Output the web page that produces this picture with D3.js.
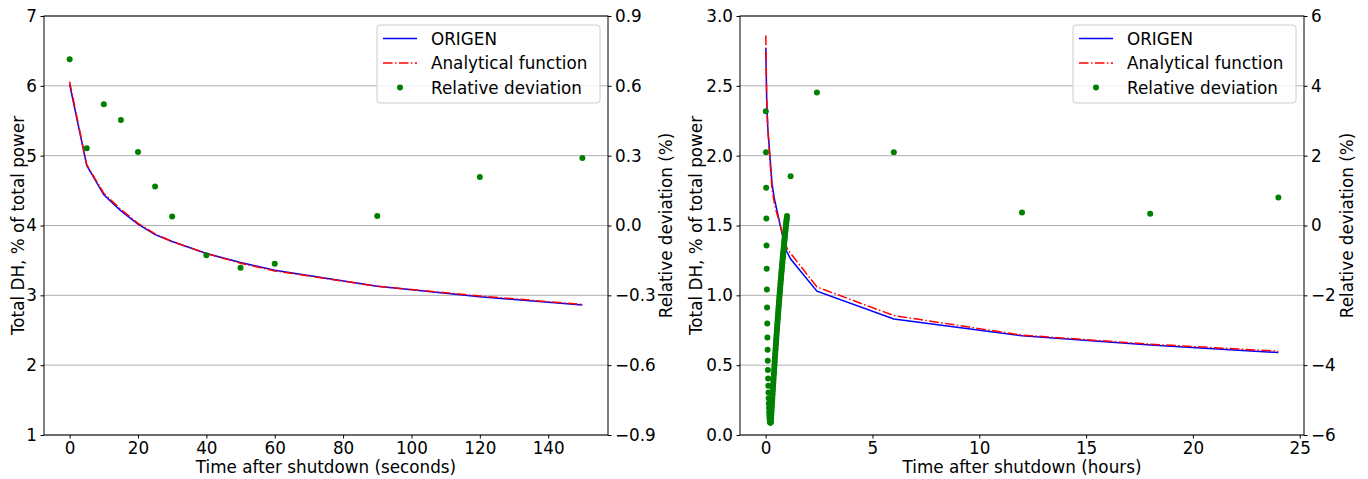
<!DOCTYPE html>
<html>
<head>
<meta charset="utf-8">
<script src="https://cdn.jsdelivr.net/npm/d3@7"></script>
<style>
  html, body { margin: 0; padding: 0; background: #fff; }
  svg { display: block; }
  text { font-family: "DejaVu Sans", sans-serif; fill: #000; }
</style>
</head>
<body>
<svg id="chart" width="1368" height="479"></svg>
<script>
// ---------------- DATA ----------------
// Left panel: seconds after shutdown
const secTimes      = [0, 5, 10, 15, 20, 25, 30, 40, 50, 60, 90, 120, 150];
const secOrigen     = [6.02, 4.86, 4.44, 4.21, 4.02, 3.87, 3.77, 3.60, 3.47, 3.36, 3.13, 2.98, 2.86];
const secAnalytical = [6.06, 4.87, 4.46, 4.23, 4.03, 3.88, 3.77, 3.60, 3.46, 3.35, 3.13, 2.99, 2.87];
const secDeviation  = [0.714, 0.332, 0.521, 0.453, 0.316, 0.168, 0.039, -0.128, -0.181, -0.164, 0.041, 0.208, 0.290];

// Right panel: hours after shutdown (lines)
const hourLineTimes  = [0.0083, 0.05, 0.1, 0.2, 0.3, 0.4, 0.5, 0.6, 0.7, 0.8, 0.9, 1.0, 1.17, 2.4, 6, 12, 18, 24];
const hourOrigen     = [2.77, 2.38, 2.20, 2.00, 1.80, 1.70, 1.63, 1.56, 1.49, 1.42, 1.35, 1.31, 1.26, 1.03, 0.83, 0.71, 0.645, 0.59];
const hourAnalytical = [2.86, 2.42, 2.20, 1.97, 1.76, 1.67, 1.60, 1.55, 1.49, 1.43, 1.37, 1.34, 1.30, 1.06, 0.855, 0.715, 0.65, 0.60];

// Right panel: deviation points, first hour sampled every 30 s (minutes)
const devMinutes = [
  0.5,1,1.5,2,2.5,3,3.5,4,4.5,5,5.5,6,6.5,7,7.5,8,8.5,9,9.5,10,
  10.5,11,11.5,12,12.5,13,13.5,14,14.5,15,15.5,16,16.5,17,17.5,18,18.5,19,19.5,20,
  20.5,21,21.5,22,22.5,23,23.5,24,24.5,25,25.5,26,26.5,27,27.5,28,28.5,29,29.5,30,
  30.5,31,31.5,32,32.5,33,33.5,34,34.5,35,35.5,36,36.5,37,37.5,38,38.5,39,39.5,40,
  40.5,41,41.5,42,42.5,43,43.5,44,44.5,45,45.5,46,46.5,47,47.5,48,48.5,49,49.5,50,
  50.5,51,51.5,52,52.5,53,53.5,54,54.5,55,55.5,56,56.5,57,57.5,58,58.5,59,59.5,60
];
const devFirstHour = [
  3.27, 2.10, 1.08, 0.20, -0.57, -1.24, -1.83, -2.35, -2.81, -3.21,
  -3.56, -3.87, -4.14, -4.38, -4.59, -4.78, -4.95, -5.10, -5.23, -5.34,
  -5.43, -5.50, -5.56, -5.60, -5.63, -5.64, -5.65, -5.64, -5.62, -5.58,
  -5.50, -5.41, -5.33, -5.24, -5.16, -5.08, -4.99, -4.91, -4.83, -4.75,
  -4.67, -4.59, -4.51, -4.43, -4.35, -4.27, -4.20, -4.12, -4.04, -3.97,
  -3.89, -3.81, -3.74, -3.66, -3.59, -3.52, -3.44, -3.37, -3.30, -3.23,
  -3.15, -3.08, -3.01, -2.94, -2.87, -2.80, -2.73, -2.67, -2.60, -2.53,
  -2.46, -2.40, -2.33, -2.27, -2.20, -2.14, -2.07, -2.01, -1.94, -1.88,
  -1.82, -1.76, -1.69, -1.63, -1.57, -1.51, -1.45, -1.39, -1.33, -1.28,
  -1.22, -1.16, -1.10, -1.05, -0.99, -0.93, -0.88, -0.82, -0.77, -0.72,
  -0.66, -0.61, -0.56, -0.50, -0.45, -0.40, -0.35, -0.30, -0.25, -0.20,
  -0.15, -0.10, -0.05, -0.01, 0.04, 0.09, 0.13, 0.18, 0.22, 0.27
];
const devLaterHours = [1.17, 2.4, 6, 12, 18, 24];
const devLater      = [1.41, 3.81, 2.10, 0.37, 0.34, 0.80];

// Tick labels
const secXTicks   = [0, 20, 40, 60, 80, 100, 120, 140];
const secYTicks   = [1, 2, 3, 4, 5, 6, 7];
const secY2Ticks  = [-0.9, -0.6, -0.3, 0.0, 0.3, 0.6, 0.9];
const hourXTicks  = [0, 5, 10, 15, 20, 25];
const hourYTicks  = [0.0, 0.5, 1.0, 1.5, 2.0, 2.5, 3.0];
const hourY2Ticks = [-6, -4, -2, 0, 2, 4, 6];

const legendLabels = ["ORIGEN", "Analytical function", "Relative deviation"];
const yLabel  = "Total DH, % of total power";
const y2Label = "Relative deviation (%)";

// ---------------- DRAW ----------------
const svg = d3.select("#chart");
const minus = s => s.replace("-", "\u2212");

function panel(cfg) {
  const { left, right, top, bottom } = cfg;
  const g = svg.append("g");
  const x  = d3.scaleLinear().domain(cfg.xDomain).range([left, right]);
  const y  = d3.scaleLinear().domain(cfg.yDomain).range([bottom, top]);
  const y2 = d3.scaleLinear().domain(cfg.y2Domain).range([bottom, top]);

  // grid
  g.append("g").selectAll("line").data(cfg.yTicks).join("line")
    .attr("x1", left).attr("x2", right)
    .attr("y1", d => y(d)).attr("y2", d => y(d))
    .attr("stroke", "#b0b0b0").attr("stroke-width", 1);

  const clip = "clip" + Math.round(left);
  svg.append("clipPath").attr("id", clip).append("rect")
    .attr("x", left).attr("y", top).attr("width", right - left).attr("height", bottom - top);

  const pts = (xs, ys) => xs.map((t, i) => [t, ys[i]]);
  const line = d3.line().x(d => x(d[0])).y(d => y(d[1]));
  const lg = g.append("g").attr("clip-path", `url(#${clip})`);
  lg.append("path").datum(pts(cfg.lineX, cfg.origen))
    .attr("d", line).attr("fill", "none").attr("stroke", "#0000ff").attr("stroke-width", 1.5);
  lg.append("path").datum(pts(cfg.lineX, cfg.analytical))
    .attr("d", line).attr("fill", "none").attr("stroke", "#ff0000").attr("stroke-width", 1.5)
    .attr("stroke-dasharray", "9.6,2.4,1.5,2.4");

  // axes
  const fs = 16.8;
  const xAxis = d3.axisBottom(x).tickValues(cfg.xTicks).tickSize(3.5).tickPadding(4)
    .tickFormat(d => minus(d3.format("d")(d)));
  const ga = g.append("g").attr("transform", `translate(0,${bottom})`).call(xAxis);
  const yAxis = d3.axisLeft(y).tickValues(cfg.yTicks).tickSize(3.5).tickPadding(3.5)
    .tickFormat(d => minus(d3.format(cfg.yFmt)(d)));
  const gy = g.append("g").attr("transform", `translate(${left},0)`).call(yAxis);
  const y2Axis = d3.axisRight(y2).tickValues(cfg.y2Ticks).tickSize(3.5).tickPadding(3.5)
    .tickFormat(d => minus(d3.format(cfg.y2Fmt)(d)));
  const gy2 = g.append("g").attr("transform", `translate(${right},0)`).call(y2Axis);
  [ga, gy, gy2].forEach(a => {
    a.select(".domain").remove();
    a.selectAll(".tick line").attr("stroke", "#000").attr("stroke-width", 1);
    a.selectAll(".tick text").attr("font-size", fs).attr("font-family", "DejaVu Sans").attr("fill", "#000");
  });

  // dots (twin axis, on top)
  const dg = g.append("g").attr("clip-path", `url(#${clip})`);
  dg.selectAll("circle").data(pts(cfg.devX, cfg.dev)).join("circle")
    .attr("cx", d => x(d[0])).attr("cy", d => y2(d[1])).attr("r", 3)
    .attr("fill", "#008000");

  // frame
  g.append("rect").attr("x", left).attr("y", top)
    .attr("width", right - left).attr("height", bottom - top)
    .attr("fill", "none").attr("stroke", "#000").attr("stroke-width", 1);

  // labels
  g.append("text").attr("x", (left + right) / 2).attr("y", bottom + 38)
    .attr("text-anchor", "middle").attr("font-size", fs).text(cfg.xLabel);
  g.append("text").attr("transform", `translate(${cfg.yLabelX},${(top + bottom) / 2}) rotate(-90)`)
    .attr("text-anchor", "middle").attr("dominant-baseline", "central").attr("font-size", fs).text(yLabel);
  g.append("text").attr("transform", `translate(${cfg.y2LabelX},${(top + bottom) / 2}) rotate(-90)`)
    .attr("text-anchor", "middle").attr("dominant-baseline", "central").attr("font-size", fs).text(y2Label);

  // legend
  const lw = 223, lx = right - 8 - lw, ly = top + 9, lh = 78;
  const leg = g.append("g");
  leg.append("rect").attr("x", lx).attr("y", ly).attr("width", lw).attr("height", lh)
    .attr("rx", 3).attr("fill", "#fff").attr("fill-opacity", 0.8)
    .attr("stroke", "#cccccc").attr("stroke-width", 1);
  const rows = [ly + 13.5, ly + 38, ly + 62.5];
  leg.append("line").attr("x1", lx + 6).attr("x2", lx + 40).attr("y1", rows[0]).attr("y2", rows[0])
    .attr("stroke", "#0000ff").attr("stroke-width", 1.5);
  leg.append("line").attr("x1", lx + 6).attr("x2", lx + 40).attr("y1", rows[1]).attr("y2", rows[1])
    .attr("stroke", "#ff0000").attr("stroke-width", 1.5).attr("stroke-dasharray", "9.6,2.4,1.5,2.4");
  leg.append("circle").attr("cx", lx + 23).attr("cy", rows[2]).attr("r", 3).attr("fill", "#008000");
  legendLabels.forEach((t, i) => {
    leg.append("text").attr("x", lx + 54).attr("y", rows[i]).attr("dominant-baseline", "central")
      .attr("font-size", fs).text(t);
  });
}

panel({
  left: 44, right: 608, top: 16, bottom: 435,
  xDomain: [-7.5, 157.5], yDomain: [1, 7], y2Domain: [-0.9, 0.9],
  xTicks: secXTicks, yTicks: secYTicks, y2Ticks: secY2Ticks,
  yFmt: "d", y2Fmt: ".1f",
  lineX: secTimes, origen: secOrigen, analytical: secAnalytical,
  devX: secTimes, dev: secDeviation,
  xLabel: "Time after shutdown (seconds)", yLabelX: 18, y2LabelX: 666
});

panel({
  left: 740, right: 1304, top: 16, bottom: 435,
  xDomain: [-1.2, 25.2], yDomain: [0, 3], y2Domain: [-6, 6],
  xTicks: hourXTicks, yTicks: hourYTicks, y2Ticks: hourY2Ticks,
  yFmt: ".1f", y2Fmt: "d",
  lineX: hourLineTimes, origen: hourOrigen, analytical: hourAnalytical,
  devX: devMinutes.map(m => m / 60).concat(devLaterHours), dev: devFirstHour.concat(devLater),
  xLabel: "Time after shutdown (hours)", yLabelX: 696, y2LabelX: 1347
});
</script>
</body>
</html>
